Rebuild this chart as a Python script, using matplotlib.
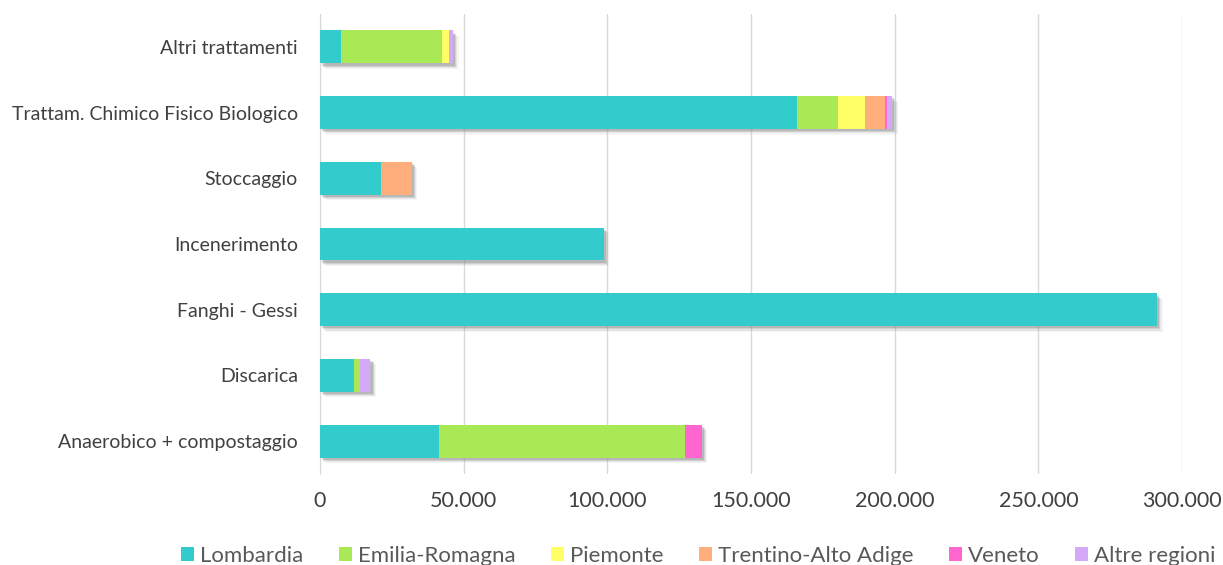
import matplotlib
matplotlib.use("Agg")
import matplotlib.pyplot as plt
import matplotlib.patheffects as pe
from matplotlib.ticker import FuncFormatter, MultipleLocator
import numpy as np

categories = ["Anaerobico + compostaggio", "Discarica", "Fanghi - Gessi",
              "Incenerimento", "Stoccaggio", "Trattam. Chimico Fisico Biologico",
              "Altri trattamenti"]

lombardia = [41500, 11900, 291300, 98800, 21100, 166000, 7300]
emilia_romagna = [85500, 2100, 0, 0, 0, 14300, 35200]
piemonte = [0, 0, 0, 0, 200, 9400, 2400]
trentino_alto_adige = [0, 0, 0, 0, 10400, 6900, 0]
veneto = [5900, 0, 0, 0, 0, 600, 0]
altre_regioni = [0, 3500, 0, 0, 200, 1900, 1400]

series = [
    ("Lombardia", lombardia, "#33CCCC"),
    ("Emilia-Romagna", emilia_romagna, "#A9E955"),
    ("Piemonte", piemonte, "#FFFF66"),
    ("Trentino-Alto Adige", trentino_alto_adige, "#FFAD7A"),
    ("Veneto", veneto, "#FF66D0"),
    ("Altre regioni", altre_regioni, "#D4A9FA"),
]

plt.rcParams["font.family"] = ["Lato", "DejaVu Sans"]
text_color = "#404040"

fig = plt.figure(figsize=(12.23, 5.65), dpi=100)
ax = fig.add_axes([320 / 1223, 1 - 474 / 565, 862 / 1223, 460 / 565])

y = np.arange(len(categories))
left = np.zeros(len(categories))
for name, vals, color in series:
    vals = np.array(vals, dtype=float)
    ax.barh(y, vals, left=left, height=0.5, color=color, label=name, zorder=3)
    left += vals

# Soft drop shadow under each full stacked bar, built from a few faint layers
soft_shadow = [
    pe.SimplePatchShadow(offset=(4.0, -4.0), shadow_rgbFace="#a0a0a0", alpha=0.10),
    pe.SimplePatchShadow(offset=(3.2, -3.2), shadow_rgbFace="#909090", alpha=0.15),
    pe.SimplePatchShadow(offset=(2.4, -2.4), shadow_rgbFace="#808080", alpha=0.20),
    pe.SimplePatchShadow(offset=(1.6, -1.6), shadow_rgbFace="#707070", alpha=0.25),
]
for yi, total in zip(y, left):
    ax.barh(yi, total, height=0.5, color="none", zorder=2, path_effects=soft_shadow)

ax.set_xlim(0, 300000)
ax.set_ylim(-0.5, len(categories) - 0.5)
ax.set_yticks(y)
ax.set_yticklabels(categories, fontsize=14, color=text_color)
ax.xaxis.set_major_locator(MultipleLocator(50000))
ax.xaxis.set_major_formatter(FuncFormatter(lambda v, p: f"{int(v):,}".replace(",", ".")))
ax.tick_params(axis="x", labelsize=15.5, colors=text_color, length=0, pad=12)
ax.tick_params(axis="y", length=0, pad=16)
ax.grid(axis="x", color="#D9D9D9", linewidth=1, zorder=0)
for s in ["top", "right", "bottom"]:
    ax.spines[s].set_visible(False)
ax.spines["left"].set_color("#D9D9D9")
ax.spines["left"].set_zorder(1)

leg = fig.legend(loc="center", bbox_to_anchor=(698 / 1223, 0.016), ncol=6, frameon=False,
                 fontsize=16, handlelength=0.6, handleheight=0.6, handletextpad=0.25,
                 columnspacing=1.6, borderpad=0)
for t in leg.get_texts():
    t.set_color("#595959")

fig.savefig("out.png", dpi=100)
